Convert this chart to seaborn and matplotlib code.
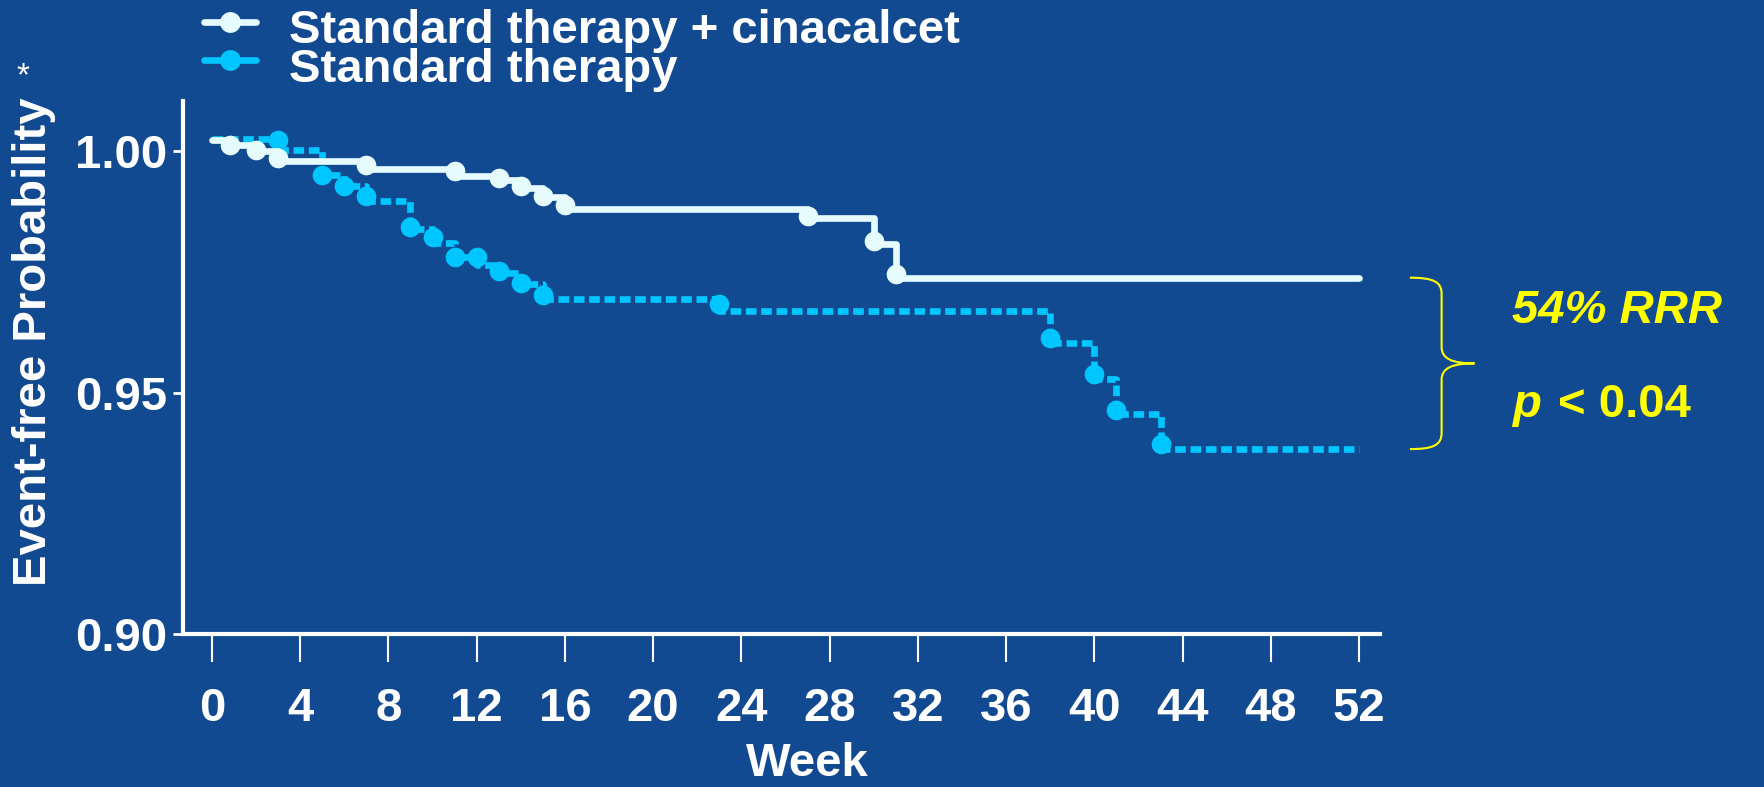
import matplotlib
matplotlib.use("Agg")
import matplotlib.pyplot as plt
import matplotlib.transforms as mtransforms
from matplotlib.path import Path
from matplotlib.patches import PathPatch
from matplotlib.lines import Line2D
import pandas as pd
import seaborn as sns

# Kaplan-Meier steps: week of each step and event-free probability after it
weeks_cinacalcet = [0, 0.8, 2, 3, 7, 11, 13, 14, 15, 16, 27, 30, 31, 52]
surv_cinacalcet = [1.0024, 1.0012, 1.0001, 0.9979, 0.9964, 0.9948, 0.9940, 0.9924,
                   0.9905, 0.9880, 0.9862, 0.9808, 0.9738, 0.9738]
mark_weeks_cinacalcet = [0.8, 2, 3, 7, 11, 13, 14, 15, 16, 27, 30, 31]
mark_surv_cinacalcet = [1.0013, 1.0002, 0.9985, 0.9972, 0.9959, 0.9944, 0.9927,
                        0.9907, 0.9888, 0.9865, 0.9813, 0.9746]

weeks_standard = [0, 3, 5, 6, 7, 9, 10, 11, 12, 13, 14, 15, 23, 38, 40, 41, 43, 52]
surv_standard = [1.0026, 1.0003, 0.9951, 0.9927, 0.9897, 0.9838, 0.9810, 0.9781,
                 0.9764, 0.9747, 0.9724, 0.9693, 0.9669, 0.9602, 0.9528, 0.9455,
                 0.9383, 0.9383]
mark_weeks_standard = [3, 5, 6, 7, 9, 10, 11, 12, 13, 14, 15, 23, 38, 40, 41, 43]
mark_surv_standard = [1.0023, 0.9951, 0.9927, 0.9908, 0.9842, 0.9822, 0.9781,
                      0.9780, 0.9751, 0.9727, 0.9702, 0.9684, 0.9613, 0.9539,
                      0.9465, 0.9393]

series_labels = ["Standard therapy + cinacalcet", "Standard therapy"]
x_ticks = list(range(0, 53, 4))
y_ticks = [0.90, 0.95, 1.00]
rrr_text = "54% RRR"
p_symbol = "p"
p_text = "< 0.04"

BG = "#124A92"
WHITE_LINE = "#E6FCFC"
CYAN = "#00C6FF"
YELLOW = "#FFFF00"
W, H = 1765, 787

sns.set_style("ticks")
plt.rcParams["font.family"] = ["Liberation Sans", "DejaVu Sans"]
plt.rcParams["font.weight"] = "bold"

fig = plt.figure(figsize=(W / 100, H / 100), dpi=100, facecolor=BG)
ax = fig.add_axes([183.5 / W, 153 / H, 1196.5 / W, 533 / H])
ax.set_facecolor(BG)


def fpx(x, y):
    return x / W, 1 - y / H


df_c = pd.DataFrame({"week": weeks_cinacalcet, "surv": surv_cinacalcet})
df_s = pd.DataFrame({"week": weeks_standard, "surv": surv_standard})
mk_c = pd.DataFrame({"week": mark_weeks_cinacalcet, "surv": mark_surv_cinacalcet})
mk_s = pd.DataFrame({"week": mark_weeks_standard, "surv": mark_surv_standard})

dash = (0, (1.6, 0.7))
sns.lineplot(data=df_s, x="week", y="surv", ax=ax, color=CYAN, linewidth=4.8,
             linestyle=dash, drawstyle="steps-post", estimator=None, sort=False)
sns.scatterplot(data=mk_s, x="week", y="surv", ax=ax, color=CYAN, s=200,
                linewidth=0, zorder=3)
sns.lineplot(data=df_c, x="week", y="surv", ax=ax, color=WHITE_LINE, linewidth=4.8,
             drawstyle="steps-post", estimator=None, sort=False, zorder=4)
sns.scatterplot(data=mk_c, x="week", y="surv", ax=ax, color=WHITE_LINE, s=200,
                linewidth=0, zorder=5)

ax.set_xlim(-1.29, 52.95)
ax.set_ylim(0.90, 1.0104)
ax.set_xticks(x_ticks)
ax.set_yticks(y_ticks)
ax.set_yticklabels([f"{v:.2f}" for v in y_ticks])

for side in ("top", "right"):
    ax.spines[side].set_visible(False)
for side in ("left", "bottom"):
    ax.spines[side].set_color("white")
    ax.spines[side].set_linewidth(3)

ax.tick_params(axis="x", direction="out", length=20, width=1.5, color="white",
               labelsize=34, labelcolor="white", pad=18)
ax.tick_params(axis="y", direction="out", length=7, width=2, color="white",
               labelsize=34, labelcolor="white", pad=5)

ax.set_xlabel("Week", fontsize=34, color="white", fontweight="bold")
ax.xaxis.label.set_verticalalignment("baseline")
ax.xaxis.set_label_coords(0.521, -0.2664)
ax.set_ylabel("")

fig.text(*fpx(34, 342), "Event-free Probability", rotation=90, ha="center",
         va="center", fontsize=34, color="white", fontweight="bold")
fig.text(*fpx(23, 77), "*", ha="center", va="center", fontsize=24,
         color="white", fontweight="normal")

# legend entries
for (label, col, y_mark, y_base) in [(series_labels[0], WHITE_LINE, 22, 43),
                                     (series_labels[1], CYAN, 60, 82)]:
    x_a, y_a = fpx(204, y_mark)
    x_b, _ = fpx(256, y_mark)
    fig.add_artist(Line2D([x_a, x_b], [y_a, y_a], color=col, linewidth=4.8,
                          transform=fig.transFigure))
    fig.add_artist(Line2D([(x_a + x_b) / 2], [y_a], color=col, marker="o",
                          markersize=15, markeredgewidth=0,
                          transform=fig.transFigure))
    fig.text(*fpx(289, y_base), label, ha="left", va="baseline", fontsize=34,
             color="white", fontweight="bold")

# brace spanning the final probabilities of the two arms
trans = mtransforms.blended_transform_factory(ax.transAxes, ax.transData)
top, bottom = surv_cinacalcet[-1], surv_standard[-1]
mid = (top + bottom) / 2
x0, x1, x2 = 1.025, 1.0515, 1.079
d = 0.0034
verts = [(x0, top), (x0 + 0.75 * (x1 - x0), top), (x1, top - 0.25 * d), (x1, top - d),
         (x1, mid + d),
         (x1, mid + 0.3 * d), (x1 + 0.3 * (x2 - x1), mid), (x2, mid),
         (x1 + 0.3 * (x2 - x1), mid), (x1, mid - 0.3 * d), (x1, mid - d),
         (x1, bottom + d),
         (x1, bottom + 0.25 * d), (x0 + 0.75 * (x1 - x0), bottom), (x0, bottom)]
codes = [Path.MOVETO, Path.CURVE4, Path.CURVE4, Path.CURVE4,
         Path.LINETO,
         Path.CURVE4, Path.CURVE4, Path.CURVE4,
         Path.CURVE4, Path.CURVE4, Path.CURVE4,
         Path.LINETO,
         Path.CURVE4, Path.CURVE4, Path.CURVE4]
ax.add_patch(PathPatch(Path(verts, codes), facecolor="none", edgecolor=YELLOW,
                       linewidth=1.5, transform=trans, clip_on=False))

fig.text(*fpx(1512, 323), rrr_text, ha="left", va="baseline", fontsize=34,
         color=YELLOW, fontweight="bold", fontstyle="italic")
fig.text(*fpx(1512, 417), p_symbol, ha="left", va="baseline", fontsize=34,
         color=YELLOW, fontweight="bold", fontstyle="italic")
fig.text(*fpx(1558, 417), p_text, ha="left", va="baseline", fontsize=34,
         color=YELLOW, fontweight="bold")

fig.savefig("out.png", dpi=100, facecolor=BG)
